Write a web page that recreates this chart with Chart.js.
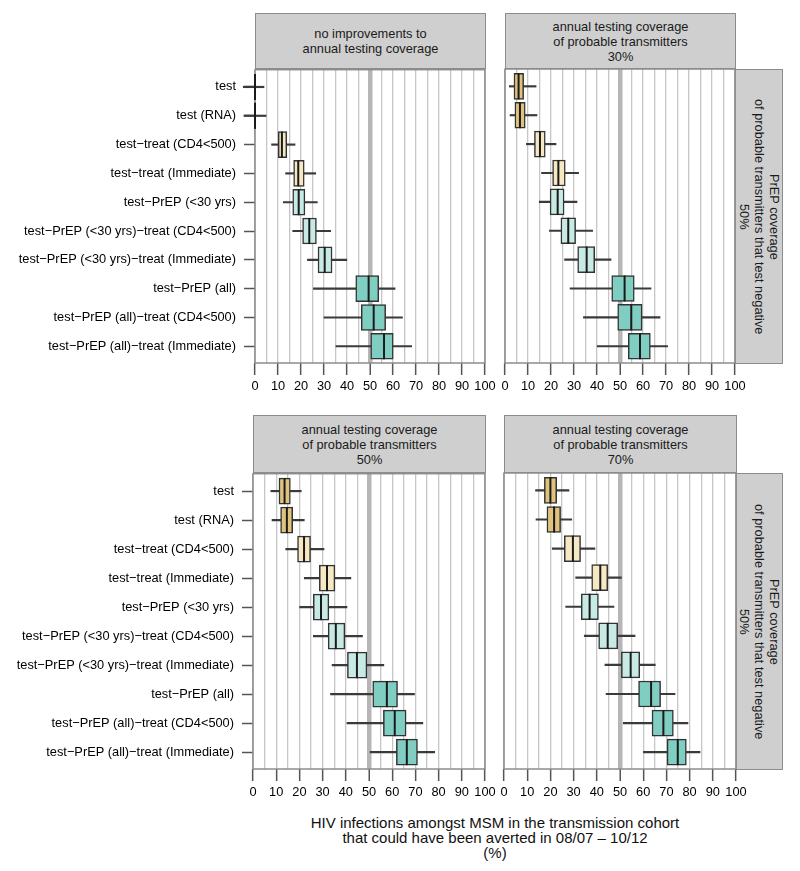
<!DOCTYPE html>
<html>
<head>
<meta charset="utf-8">
<script src="https://cdn.jsdelivr.net/npm/chart.js@4.4.0/dist/chart.umd.min.js"></script>
<style>
  html, body { margin:0; padding:0; background:#fff; }
  body { width:800px; height:871px; position:relative; overflow:hidden;
         font-family:"Liberation Sans", Arial, Helvetica, sans-serif; }
  canvas { position:absolute; }
  .hdr { position:absolute; box-sizing:border-box; background:#cfcfcf; border:1.5px solid #8c8c8c;
         display:flex; align-items:center; justify-content:center; text-align:center;
         font-size:12.8px; line-height:15px; color:#1a1a1a; }
  .strip { position:absolute; box-sizing:border-box; background:#cfcfcf; border:1.5px solid #8c8c8c;
           display:flex; align-items:center; justify-content:center; text-align:center;
           writing-mode:vertical-rl; font-size:12.8px; line-height:15px; color:#1a1a1a; }
  .xtitle { position:absolute; left:255px; width:480px; top:815px; text-align:center;
            font-size:15px; line-height:15px; color:#111; }
</style>
</head>
<body>
<div class="hdr" style="left:255px; top:13px; width:231px; height:56px;">no improvements to<br>annual testing coverage</div>
<div class="hdr" style="left:505px; top:13px; width:231px; height:56px;">annual testing coverage<br>of probable transmitters<br>30%</div>
<div class="hdr" style="left:253px; top:415px; width:233px; height:58px;">annual testing coverage<br>of probable transmitters<br>50%</div>
<div class="hdr" style="left:504px; top:415px; width:233px; height:58px;">annual testing coverage<br>of probable transmitters<br>70%</div>
<div class="strip" style="left:735px; top:69px; width:48px; height:295px;">PrEP coverage<br>of probable transmitters that test negative<br>50%</div>
<div class="strip" style="left:736px; top:473px; width:47px; height:297px;">PrEP coverage<br>of probable transmitters that test negative<br>50%</div>
<div class="xtitle">HIV infections amongst MSM in the transmission cohort<br>that could have been averted in 08/07 – 10/12<br>(%)</div>

<canvas id="c1" width="500" height="351" style="left:0px; top:54px;"></canvas>
<canvas id="c2" width="260" height="351" style="left:490px; top:54px;"></canvas>
<canvas id="c3" width="500" height="353" style="left:0px; top:458px;"></canvas>
<canvas id="c4" width="262" height="353" style="left:489px; top:458px;"></canvas>

<script>
// ---------- data ----------
const categories = [
  "test", "test (RNA)", "test\u2212treat (CD4<500)", "test\u2212treat (Immediate)",
  "test\u2212PrEP (<30 yrs)", "test\u2212PrEP (<30 yrs)\u2212treat (CD4<500)",
  "test\u2212PrEP (<30 yrs)\u2212treat (Immediate)", "test\u2212PrEP (all)",
  "test\u2212PrEP (all)\u2212treat (CD4<500)", "test\u2212PrEP (all)\u2212treat (Immediate)"
];
const xTicks = [0, 10, 20, 30, 40, 50, 60, 70, 80, 90, 100];
const groupOfRow = ["test", "test", "treat", "treat", "prep30", "prep30", "prep30", "prepall", "prepall", "prepall"];
const groupColors = { test: "#DFC27D", treat: "#F6E8C3", prep30: "#C7EAE5", prepall: "#80CDC1" };

// panel 1: no improvements to annual testing coverage
const none_lo  = [-5.1, -4.8,  7.2, 13.3, 12.3, 16.4, 22.8, 25.4, 30.0, 35.2];
const none_q1  = [-0.2, -0.2, 10.1, 16.8, 16.4, 20.7, 27.4, 43.8, 46.2, 50.3];
const none_med = [ 0.0,  0.0, 11.7, 18.8, 19.0, 23.6, 30.3, 49.4, 51.6, 56.1];
const none_q3  = [ 0.2,  0.2, 13.8, 21.4, 21.7, 26.7, 33.5, 53.8, 56.8, 60.1];
const none_hi  = [ 3.9,  4.8, 17.4, 26.4, 27.1, 32.9, 39.9, 60.9, 64.1, 68.1];
// panel 2: testing coverage 30%
const t30_lo  = [ 1.9,  2.2,  9.3, 15.9, 14.9, 19.3, 25.9, 28.3, 34.1, 40.1];
const t30_q1  = [ 3.9,  4.3, 12.8, 20.7, 19.6, 24.3, 31.6, 46.4, 49.0, 53.6];
const t30_med = [ 5.9,  6.5, 15.2, 23.2, 22.9, 27.5, 35.5, 52.0, 54.9, 58.7];
const t30_q3  = [ 8.1,  8.8, 17.5, 26.2, 25.7, 30.7, 39.0, 56.2, 59.6, 63.2];
const t30_hi  = [13.5, 13.9, 22.2, 32.0, 31.3, 38.1, 46.1, 63.5, 67.4, 70.7];
// panel 3: testing coverage 50%
const t50_lo  = [ 7.7,  8.2, 14.1, 22.1, 20.1, 26.0, 34.1, 33.4, 40.5, 50.5];
const t50_q1  = [11.2, 11.9, 19.2, 28.6, 26.0, 32.4, 40.7, 51.6, 56.2, 61.8];
const t50_med = [13.6, 14.6, 22.0, 31.9, 29.3, 35.7, 44.8, 57.7, 61.1, 66.3];
const t50_q3  = [16.1, 17.1, 24.8, 35.3, 32.7, 39.6, 49.1, 62.3, 66.0, 70.9];
const t50_hi  = [20.8, 22.1, 30.6, 42.2, 40.5, 47.2, 56.4, 69.6, 73.2, 78.3];
// panel 4: testing coverage 70%
const t70_lo  = [13.6, 13.8, 20.8, 30.9, 26.6, 34.6, 43.5, 44.0, 51.4, 60.1];
const t70_q1  = [17.4, 18.5, 26.0, 37.8, 33.3, 40.8, 50.6, 58.0, 63.8, 70.3];
const t70_med = [20.0, 21.6, 29.7, 41.5, 36.9, 44.7, 54.6, 63.4, 68.7, 74.9];
const t70_q3  = [22.7, 24.4, 33.0, 44.7, 40.7, 49.0, 58.5, 67.5, 73.0, 78.6];
const t70_hi  = [28.0, 29.2, 39.2, 50.6, 47.4, 56.5, 65.2, 73.7, 79.3, 84.5];

// ---------- drawing ----------
Chart.defaults.font.family = '"Liberation Sans", Arial, Helvetica, sans-serif';
Chart.defaults.color = '#000';

const framePlugin = {
  id: 'frame',
  beforeDatasetsDraw(chart) {
    const a = chart.chartArea, c = chart.ctx;
    c.save();
    c.strokeStyle = '#8c8c8c';
    c.lineWidth = 1.5;
    c.strokeRect(a.left, a.top, a.right - a.left, a.bottom - a.top);
    c.restore();
  }
};

function makePanel(id, yAxisWidth, lo, q1, med, q3, hi, showLabels) {
  const rows = categories.map((_, i) => i + 1);
  const fills = groupOfRow.map(g => groupColors[g]);
  return new Chart(document.getElementById(id), {
    type: 'bar',
    data: {
      datasets: [
        { // whiskers
          data: rows.map((r, i) => ({ x: [lo[i], hi[i]], y: r })),
          backgroundColor: '#3a3a3a', borderWidth: 0, barThickness: 1.5,
          grouped: false, order: 3, clip: false },
        { // boxes
          data: rows.map((r, i) => ({ x: [q1[i], q3[i]], y: r })),
          backgroundColor: fills, borderColor: '#333', borderWidth: 1.5, borderSkipped: false,
          barThickness: 26, grouped: false, order: 2, clip: false },
        { // medians
          type: 'scatter',
          data: rows.map((r, i) => ({ x: med[i], y: r })),
          pointStyle: 'line', rotation: 90, radius: 13, borderWidth: 2,
          borderColor: '#1a1a1a', backgroundColor: '#1a1a1a', order: 1, clip: false }
      ]
    },
    options: {
      indexAxis: 'y', responsive: false, animation: false,
      layout: { padding: { top: 3, right: 15, left: 0, bottom: 0 } },
      plugins: { legend: { display: false }, tooltip: { enabled: false } },
      scales: {
        x: {
          type: 'linear', min: 0, max: 100, offset: false,
          afterBuildTicks: s => { const t = []; for (let v = 0; v <= 100; v += 5) t.push({ value: v }); s.ticks = t; },
          afterFit: s => { s.height = 42; },
          ticks: { autoSkip: false, maxRotation: 0, padding: 4, font: { size: 12.8 }, color: '#000',
                   callback: v => (xTicks.includes(v) ? String(v) : '') },
          grid: { offset: false, drawOnChartArea: true, drawTicks: true, tickLength: 12, tickWidth: 1.5,
            color: ctx => (ctx.tick && ctx.tick.value === 50 ? '#b6b6b6' : '#c6c6c6'),
            lineWidth: ctx => (ctx.tick && ctx.tick.value === 50 ? 4.5 : 1.3),
            tickColor: ctx => (ctx.tick && ctx.tick.value % 10 === 0 ? '#555' : 'rgba(0,0,0,0)') },
          border: { display: false }
        },
        y: {
          type: 'linear', min: 0.4, max: 10.58, reverse: true, offset: false,
          afterBuildTicks: s => { s.ticks = rows.map(r => ({ value: r })); },
          afterFit: s => { s.width = yAxisWidth; },
          ticks: { display: showLabels, padding: 8, font: { size: 12.8 }, color: '#000',
                   callback: v => categories[v - 1] },
          grid: { offset: false, drawOnChartArea: false, drawTicks: showLabels, tickLength: 11,
                  tickWidth: 1.5, tickColor: '#555', display: showLabels },
          border: { display: false }
        }
      }
    },
    plugins: [framePlugin]
  });
}

makePanel('c1', 255, none_lo, none_q1, none_med, none_q3, none_hi, true);
makePanel('c2', 15, t30_lo, t30_q1, t30_med, t30_q3, t30_hi, false);
makePanel('c3', 253, t50_lo, t50_q1, t50_med, t50_q3, t50_hi, true);
makePanel('c4', 15, t70_lo, t70_q1, t70_med, t70_q3, t70_hi, false);
</script>
</body>
</html>
